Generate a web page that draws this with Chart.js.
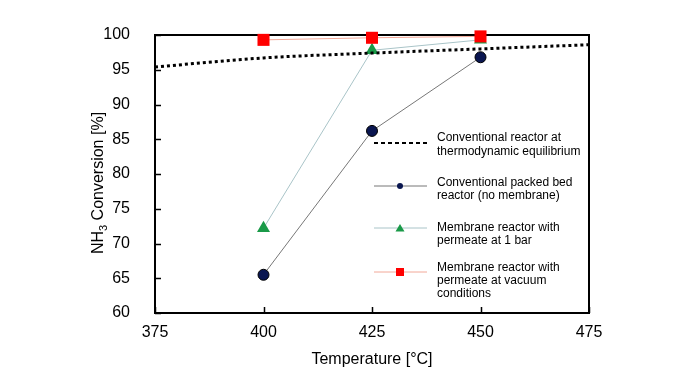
<!DOCTYPE html>
<html><head><meta charset="utf-8">
<script src="https://cdn.jsdelivr.net/npm/chart.js@4"></script>
<style>html,body{margin:0;padding:0;background:#fff;}#wrap{width:696px;height:385px;}</style>
</head><body><div id="wrap"><canvas id="c" width="696" height="385"></canvas></div>
<script>
const temps = [400, 425, 450];
const packedBed = [65.5, 86.2, 96.8];
const membrane1bar = [72.2, 97.8, 99.3];
const membraneVacuum = [99.3, 99.6, 99.8];
const eqTemps = [375, 400, 425, 450, 475];
const eqValues = [95.4, 96.7, 97.4, 98.0, 98.6];
const xTicks = [375, 400, 425, 450, 475];
const yTicks = [60, 65, 70, 75, 80, 85, 90, 95, 100];
const legendLabels = [
  ["Conventional reactor at", "thermodynamic equilibrium"],
  ["Conventional packed bed", "reactor (no membrane)"],
  ["Membrane reactor with", "permeate at 1 bar"],
  ["Membrane reactor with", "permeate at vacuum", "conditions"]
];
const FONT = "'Liberation Sans', Arial, sans-serif";
const pts = (xs, ys) => xs.map((x, i) => ({x: x, y: ys[i]}));

const framePlugin = {
  id: 'frame',
  beforeDatasetsDraw(chart) {
    const {ctx, chartArea: a, scales} = chart;
    ctx.save();
    ctx.strokeStyle = '#000';
    ctx.lineWidth = 2;
    ctx.strokeRect(a.left, a.top, a.right - a.left, a.bottom - a.top);
    ctx.lineWidth = 1.5;
    ctx.beginPath();
    yTicks.forEach(v => {
      const y = Math.round(scales.y.getPixelForValue(v)) + 0.5;
      ctx.moveTo(a.left, y); ctx.lineTo(a.left + 6, y);
    });
    xTicks.forEach(v => {
      const x = Math.round(scales.x.getPixelForValue(v)) + 0.5;
      ctx.moveTo(x, a.bottom); ctx.lineTo(x, a.bottom - 6);
    });
    ctx.stroke();
    ctx.restore();
  },
  afterDatasetsDraw(chart) {
    const {ctx} = chart;
    ctx.save();
    // Y title with subscript
    ctx.fillStyle = '#000';
    ctx.translate(99, 183);
    ctx.rotate(-Math.PI / 2);
    ctx.textBaseline = 'middle';
    const big = '16px ' + FONT, small = '11px ' + FONT;
    ctx.font = big; const w1 = ctx.measureText('NH').width;
    ctx.font = small; const w2 = ctx.measureText('3').width;
    ctx.font = big; const w3 = ctx.measureText(' Conversion [%]').width;
    let x0 = -(w1 + w2 + w3) / 2;
    ctx.textAlign = 'left';
    ctx.font = big; ctx.fillText('NH', x0, 0);
    ctx.font = small; ctx.fillText('3', x0 + w1, 5);
    ctx.font = big; ctx.fillText(' Conversion [%]', x0 + w1 + w2, 0);
    ctx.restore();

    // Legend
    ctx.save();
    ctx.font = '12px ' + FONT;
    ctx.fillStyle = '#000';
    ctx.textBaseline = 'middle';
    ctx.textAlign = 'left';
    const entries = [
      {ly: 143, ty: [138, 152], kind: 'dash'},
      {ly: 186, ty: [183, 196], kind: 'circle', line: '#777', fill: '#0a1650'},
      {ly: 228, ty: [228, 241], kind: 'tri', line: '#a9c4c8', fill: '#1a9a48'},
      {ly: 272, ty: [268, 281, 294], kind: 'sq', line: '#f2a898', fill: '#ff0000'}
    ];
    entries.forEach((e, i) => {
      const x1 = 374, x2 = 427, xm = 400;
      if (e.kind === 'dash') {
        ctx.strokeStyle = '#000'; ctx.lineWidth = 2; ctx.setLineDash([4, 3]);
        ctx.beginPath(); ctx.moveTo(x1, e.ly); ctx.lineTo(x2, e.ly); ctx.stroke();
        ctx.setLineDash([]);
      } else {
        ctx.strokeStyle = e.line; ctx.lineWidth = 1;
        ctx.beginPath(); ctx.moveTo(x1, e.ly); ctx.lineTo(x2, e.ly); ctx.stroke();
        ctx.fillStyle = e.fill;
        ctx.beginPath();
        if (e.kind === 'circle') ctx.arc(xm, e.ly, 3, 0, Math.PI * 2);
        else if (e.kind === 'tri') { ctx.moveTo(xm, e.ly - 4); ctx.lineTo(xm + 4.5, e.ly + 3.5); ctx.lineTo(xm - 4.5, e.ly + 3.5); ctx.closePath(); }
        else ctx.rect(xm - 4, e.ly - 4, 8, 8);
        ctx.fill();
        ctx.fillStyle = '#000';
      }
      legendLabels[i].forEach((t, j) => ctx.fillText(t, 437, e.ty[j]));
    });
    ctx.restore();
  }
};

new Chart(document.getElementById('c'), {
  type: 'line',
  data: {
    datasets: [
      {label: 'Conventional packed bed reactor (no membrane)', data: pts(temps, packedBed),
       borderColor: '#777', borderWidth: 1, pointStyle: 'circle', pointRadius: 5.5, clip: false,
       pointBackgroundColor: '#0a1650', pointBorderColor: '#000', pointBorderWidth: 1, order: 4},
      {label: 'Membrane reactor with permeate at 1 bar', data: pts(temps, membrane1bar),
       borderColor: '#a9c4c8', borderWidth: 1, pointStyle: 'triangle', pointRadius: 7.5, clip: false,
       pointBackgroundColor: '#1a9a48', pointBorderColor: '#1a9a48', pointBorderWidth: 0, order: 3},
      {label: 'Conventional reactor at thermodynamic equilibrium', data: pts(eqTemps, eqValues),
       borderColor: '#000', borderWidth: 3, borderDash: [3, 3], pointRadius: 0, tension: 0.4,
       cubicInterpolationMode: 'monotone', order: 2},
      {label: 'Membrane reactor with permeate at vacuum conditions', data: pts(temps, membraneVacuum),
       borderColor: '#f2a898', borderWidth: 1, pointStyle: 'rect', pointRadius: 8.5, clip: false,
       pointBackgroundColor: '#ff0000', pointBorderColor: '#ff0000', pointBorderWidth: 0, order: 1}
    ]
  },
  options: {
    responsive: false,
    animation: false,
    events: [],
    layout: {padding: {top: 35, right: 107, left: 0, bottom: 0}},
    plugins: {legend: {display: false}, tooltip: {enabled: false}},
    scales: {
      x: {
        type: 'linear', min: 375, max: 475,
        afterBuildTicks: s => { s.ticks = xTicks.map(v => ({value: v})); },
        afterFit: s => { s.height = 72; },
        grid: {display: false}, border: {display: false},
        ticks: {color: '#000', font: {family: FONT, size: 16}, padding: 2, maxRotation: 0},
        title: {display: true, text: 'Temperature [°C]', color: '#000', font: {family: FONT, size: 16}, padding: {top: 0, bottom: 16}}
      },
      y: {
        type: 'linear', min: 60, max: 100,
        afterBuildTicks: s => { s.ticks = yTicks.map(v => ({value: v})); },
        afterFit: s => { s.width = 155; },
        grid: {display: false}, border: {display: false},
        ticks: {color: '#000', font: {family: FONT, size: 16}, padding: 17}
      }
    }
  },
  plugins: [framePlugin]
});
</script>
</body></html>
